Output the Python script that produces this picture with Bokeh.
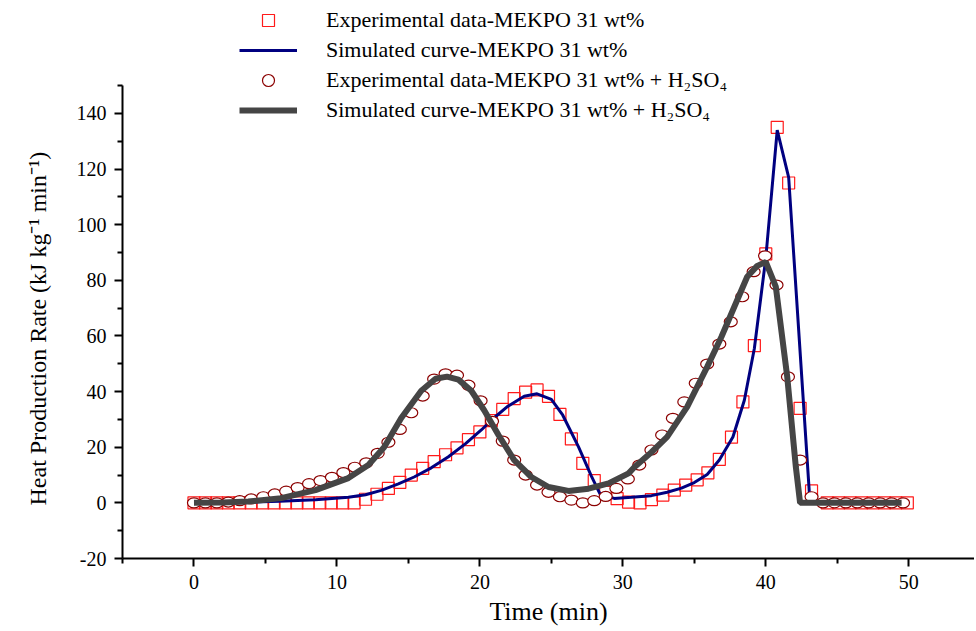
from bokeh.plotting import figure
from bokeh.models import Range1d, FixedTicker, Legend, LegendItem, Title
from bokeh.embed import file_html
from bokeh.resources import INLINE

# ---- data ----
# Experimental data - MEKPO 31 wt%
sq_t = [0, 0.8, 1.6, 2.4, 3.2, 4.0, 4.8, 5.6, 6.4, 7.2, 8.0, 8.8, 9.6, 10.4, 11.2,
        12.0, 12.8, 13.6, 14.4, 15.2, 16.0, 16.8, 17.6, 18.4, 19.2, 20.0, 20.8, 21.6,
        22.4, 23.2, 24.0, 24.8, 25.6, 26.4, 27.2, 28.0, 28.8, 29.6, 30.4, 31.2, 32.0,
        32.8, 33.6, 34.4, 35.2, 35.95, 36.75, 37.6, 38.4, 39.2, 40.0, 40.8, 41.6, 42.4,
        43.2, 44.3, 45.1, 45.9, 46.7, 47.5, 48.3, 49.1, 49.9]
sq_v = [0, 0, 0, 0, 0, 0, 0, 0, 0, 0, 0, 0, 0, 0, 0,
        1.3, 3.1, 5.2, 7.4, 10.0, 12.4, 14.8, 17.3, 19.8, 22.7, 25.5, 29.6, 33.6,
        37.5, 39.8, 40.6, 38.3, 31.8, 23.0, 14.2, 8.0, 3.8, 1.5, 0.3, 0, 1.2,
        2.8, 4.6, 6.4, 8.3, 10.8, 15.6, 23.6, 36.3, 56.5, 89.5, 135.0, 115.0, 34.0,
        4.3, 0, 0, 0, 0, 0, 0, 0, 0]

# Simulated curve - MEKPO 31 wt%
sim1_t = [0, 2, 4, 6, 8.5, 10.8, 12.0, 13.1, 14.3, 15.4, 16.6, 17.8, 19.0, 20.1, 21.0,
          21.9, 23.1, 24.0, 25.0, 25.8, 26.9, 27.8, 28.4, 29.4, 30.6, 32.0, 33.1, 34.1,
          35.0, 35.9, 36.75, 37.7, 38.5, 39.2, 40.0, 40.8, 41.6, 43.05, 43.2, 49.6]
sim1_v = [0, 0.1, 0.3, 0.6, 1.1, 2.0, 2.9, 4.5, 6.8, 9.3, 12.6, 16.6, 21.3, 26.2, 30.6,
          34.5, 38.3, 39.2, 37.2, 31.5, 20.1, 9.6, 3.2, 1.6, 2.0, 2.6, 3.8, 5.3,
          7.3, 10.2, 15.4, 23.7, 36.9, 55.5, 88.0, 134.0, 117.0, 3.4, 0, 0]

# Experimental data - MEKPO 31 wt% + H2SO4
ci_t = [0, 0.8, 1.6, 2.4, 3.2, 4.0, 4.85, 5.65, 6.45, 7.25, 8.05, 8.85, 9.65, 10.45,
        11.25, 12.05, 12.85, 13.6, 14.4, 15.2, 16.0, 16.8, 17.6, 18.4, 19.2, 20.05,
        20.85, 21.6, 22.4, 23.2, 24.0, 24.8, 25.6, 26.4, 27.2, 28.0, 28.8, 29.55, 30.35,
        31.15, 32.0, 32.75, 33.5, 34.3, 35.1, 35.9, 36.75, 37.55, 38.35, 39.15, 39.95,
        40.75, 41.55, 42.4, 43.2, 44.0, 44.8, 45.6, 46.4, 47.2, 48.0, 48.8, 49.6]
ci_v = [0, 0, 0, 0.3, 0.8, 1.4, 2.2, 3.2, 4.2, 5.5, 6.9, 8.0, 9.2, 10.9,
        12.8, 14.4, 17.8, 21.8, 26.4, 32.4, 38.4, 44.5, 46.4, 45.9, 42.3, 36.7,
        29.3, 22.2, 15.4, 10.0, 6.4, 3.8, 2.2, 1.0, 0, 0.8, 2.3, 5.2, 8.6,
        13.6, 19.0, 24.4, 30.4, 36.3, 43.0, 49.9, 57.1, 65.1, 74.1, 83.1, 88.8,
        78.3, 45.3, 15.4, 2.2, 0, 0, 0, 0, 0, 0, 0, 0]

# Simulated curve - MEKPO 31 wt% + H2SO4
sim2_t = [0, 2, 3.8, 6.1, 8.5, 10.8, 12.2, 13.3, 14.5, 15.9, 16.9, 17.7, 18.5, 19.4,
          20.3, 21.3, 22.4, 23.6, 24.8, 26.2, 27.6, 29.0, 30.4, 30.8, 32.0, 33.1, 34.5,
          35.9, 36.9, 37.8, 38.7, 39.4, 40.0, 40.7, 41.5, 42.1, 42.4, 49.5]
sim2_v = [0, 0.1, 0.5, 1.7, 4.6, 8.9, 13.6, 20.0, 30.5, 40.3, 44.6, 45.4, 44.3, 40.3,
          33.3, 24.4, 15.4, 9.3, 5.7, 4.3, 5.1, 7.0, 10.6, 12.8, 18.2, 23.7, 34.5,
          48.9, 59.7, 70.5, 81.3, 85.2, 86.6, 77.7, 45.3, 13.0, 0, 0]

x_major = [0, 10, 20, 30, 40, 50]
x_minor = [-5, 5, 15, 25, 35, 45]
y_major = [-20, 0, 20, 40, 60, 80, 100, 120, 140]
y_minor = [-10, 10, 30, 50, 70, 90, 110, 130, 150]

labels = ["Experimental data-MEKPO 31 wt%",
          "Simulated curve-MEKPO 31 wt%",
          "Experimental data-MEKPO 31 wt% + H\u2082SO\u2084",
          "Simulated curve-MEKPO 31 wt% + H\u2082SO\u2084"]
x_title = "Time (min)"
y_title = "Heat Production Rate (kJ kg\u207b\u00b9 min\u207b\u00b9)"

FONT = "Liberation Serif"

# frame spans the full height so the legend (above the axis top) is not clipped;
# the drawn y axis itself stops at 150
p = figure(width=974, height=629, output_backend="svg", toolbar_location=None,
           title=None,
           x_range=Range1d(-5, 54.6), y_range=Range1d(-20, 180.6),
           min_border_left=121, min_border_right=0, min_border_top=0,
           min_border_bottom=71)
p.outline_line_color = None
p.xgrid.visible = False
p.ygrid.visible = False
p.background_fill_color = "white"
p.border_fill_color = "white"

sq_r = p.scatter(sq_t, sq_v, marker="square", size=12, fill_color=None,
                 line_color="#ff1a1a", line_width=1.2)
b_r = p.line(sim1_t, sim1_v, line_color="#000080", line_width=3)
p.ellipse(ci_t, ci_v, width=13, height=10, width_units="screen",
          height_units="screen", fill_color="white", line_color="#8b0000",
          line_width=1.2)
# legend proxy for the circles (zero size on the plot, legend draws its own size)
ci_leg = p.scatter(ci_t, ci_v, marker="circle", size=0, fill_color="white",
                   line_color="#8b0000", line_width=1.2)
g_r = p.line(sim2_t, sim2_v, line_color="#454545", line_width=6)

for ax in (p.xaxis[0], p.yaxis[0]):
    ax.axis_line_width = 2
    ax.major_tick_line_width = 2
    ax.minor_tick_line_width = 2
    ax.major_tick_out = 8
    ax.major_tick_in = 0
    ax.minor_tick_out = 5
    ax.minor_tick_in = 0
    ax.major_label_text_font = FONT
    ax.major_label_text_font_size = "20px"
    ax.major_label_text_color = "black"
    ax.axis_label_text_font = FONT
    ax.axis_label_text_font_style = "normal"
    ax.axis_label_text_color = "black"

p.xaxis.ticker = FixedTicker(ticks=x_major, minor_ticks=x_minor)
p.yaxis.ticker = FixedTicker(ticks=y_major, minor_ticks=y_minor)
p.yaxis.bounds = (-20, 150)
p.yaxis.major_label_overrides = {-20: "-20"}
p.xaxis.axis_label = x_title
p.xaxis.axis_label_text_font_size = "26px"
p.xaxis.major_label_standoff = 8
p.xaxis.axis_label_standoff = 5
p.yaxis.major_label_standoff = 8

# y title as a side title so it can be positioned along the axis part only
yt = Title(text=y_title, align="left", offset=53, standoff=45,
           text_font=FONT, text_font_size="24px", text_font_style="normal",
           text_color="black")
p.add_layout(yt, "left")

legend = Legend(items=[LegendItem(label=labels[0], renderers=[sq_r]),
                       LegendItem(label=labels[1], renderers=[b_r]),
                       LegendItem(label=labels[2], renderers=[ci_leg]),
                       LegendItem(label=labels[3], renderers=[g_r])],
                location=(117, 433))
legend.border_line_color = None
legend.background_fill_alpha = 0
legend.padding = 0
legend.spacing = 0
legend.margin = 0
legend.glyph_width = 58
legend.glyph_height = 30
legend.label_height = 30
legend.label_standoff = 29
legend.label_text_font = FONT
legend.label_text_font_size = "22px"
legend.label_text_color = "black"
p.add_layout(legend, "center")

open("out.html", "w").write(file_html(p, INLINE))
